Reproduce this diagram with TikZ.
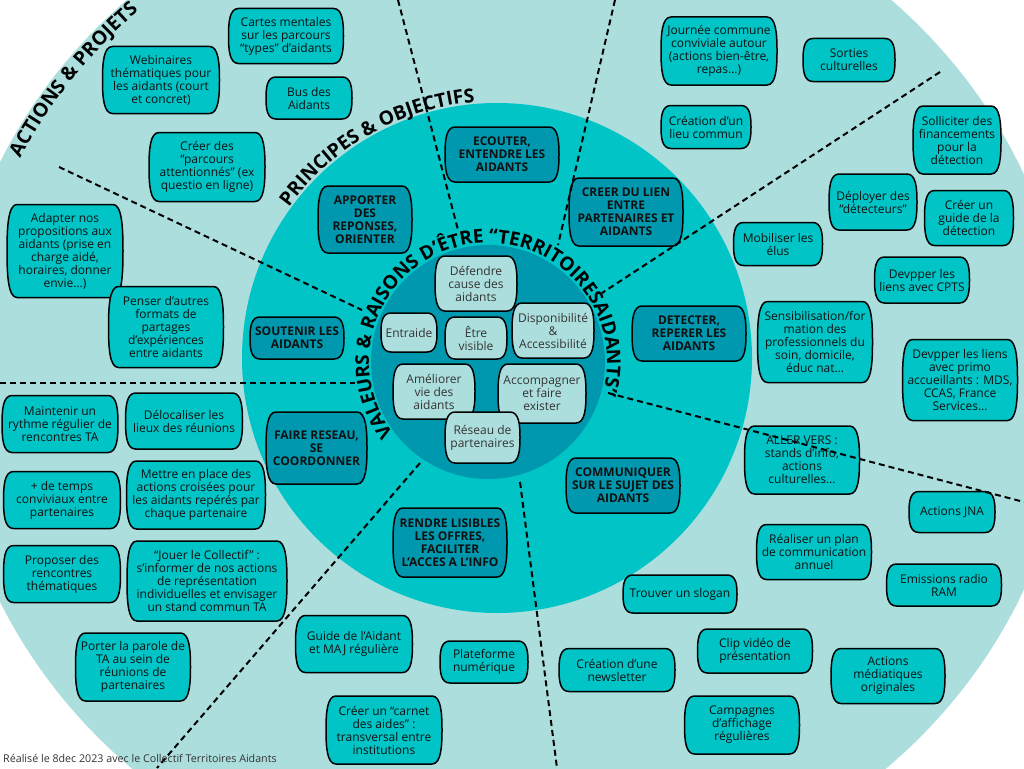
\documentclass[tikz,border=0pt]{standalone}
\usepackage{fontspec}
\setmainfont{Open Sans}
\usetikzlibrary{decorations.text}
\definecolor{cLight}{HTML}{ADDEDE}
\definecolor{cTeal}{HTML}{00C4C6}
\definecolor{cDark}{HTML}{0098AF}
\definecolor{txtDark}{HTML}{111111}
\definecolor{txtGray}{HTML}{333333}
\tikzset{
  actS/.style={draw=black, line width=1.5pt, fill=cTeal},
  prinS/.style={actS, fill=cDark},
  valS/.style={actS, fill=cLight},
  actT/.style={align=center, font=\fontsize{12}{13}\selectfont, text=txtDark, inner sep=1pt},
  prinT/.style={actT, font=\fontsize{12}{13}\selectfont\bfseries},
  valT/.style={actT, text=txtGray},
  sep/.style={draw=black, line width=2pt, dash pattern=on 6pt off 4pt},
}
% #1 kind, #2 name, #3 centre, #4 width, #5 height, #6 text
\newcommand{\bx}[6]{%
  \pgfmathsetmacro\bW{#4/2}\pgfmathsetmacro\bH{#5/2}%
  \begin{scope}[shift={#3}]
    \path[#1S] ({-\bW+10},\bH) -- ({\bW-10},\bH)
      .. controls ({\bW-1},\bH) and (\bW,{0.5*\bH}) .. (\bW,0)
      .. controls (\bW,{-0.5*\bH}) and ({\bW-1},{-\bH}) .. ({\bW-10},{-\bH})
      -- ({-\bW+10},{-\bH})
      .. controls ({-\bW+1},{-\bH}) and ({-\bW},{-0.5*\bH}) .. ({-\bW},0)
      .. controls ({-\bW},{0.5*\bH}) and ({-\bW+1},\bH) .. ({-\bW+10},\bH) -- cycle;
  \end{scope}
  \node[#1T, minimum width=#4pt, minimum height=#5pt] (#2) at #3 {#6};}
\begin{document}
\begin{tikzpicture}[x=1pt,y=1pt]
\useasboundingbox (0,0) rectangle (1024,-768);
\fill[white] (0,0) rectangle (1024,-768);
\clip (0,0) rectangle (1024,-768);
% rings
\fill[cLight] (509,-382) ellipse[x radius=561, y radius=522];
\fill[cTeal] (497,-358) circle[radius=255];
\fill[cDark] (488,-362) circle[radius=117];

% outer actions
\bx{act}{a1}{(286,-36)}{115}{55}{Cartes mentales\\sur les parcours\\“types” d’aidants}
\bx{act}{a2}{(161,-80)}{117}{67}{Webinaires\\thématiques pour\\les aidants (court\\et concret)}
\bx{act}{a3}{(309,-98)}{86}{42}{Bus des\\Aidants}
\bx{act}{a4}{(207,-167)}{116}{69}{Créer des\\“parcours\\attentionnés” (ex\\questio en ligne)}
\bx{act}{a5}{(65,-251)}{116}{93}{Adapter nos\\propositions aux\\aidants (prise en\\charge aidé,\\horaires, donner\\envie…)}
\bx{act}{a6}{(166,-327)}{115}{81}{Penser d’autres\\formats de\\partages\\d’expériences\\entre aidants}
\bx{act}{a7}{(60,-424)}{116}{57}{Maintenir un\\rythme régulier de\\rencontres TA}
\bx{act}{a8}{(184,-421)}{117}{56}{Délocaliser les\\lieux des réunions}
\bx{act}{a9}{(62,-500)}{117}{57}{+ de temps\\conviviaux entre\\partenaires}
\bx{act}{a10}{(196,-495)}{139}{68}{Mettre en place des\\actions croisées pour\\les aidants repérés par\\chaque partenaire}
\bx{act}{a11}{(62,-574)}{117}{57}{Proposer des\\rencontres\\thématiques}
\bx{act}{a12}{(207,-581)}{160}{80}{“Jouer le Collectif” :\\s’informer de nos actions\\de représentation\\individuelles et envisager\\un stand commun TA}
\bx{act}{a13}{(133,-667)}{115}{68}{Porter la parole de\\TA au sein de\\réunions de\\partenaires}
\bx{act}{a14}{(354,-644)}{117}{57}{Guide de l’Aidant\\et MAJ régulière}
\bx{act}{a15}{(484,-662)}{88}{42}{Plateforme\\numérique}
\bx{act}{a16}{(384,-730)}{116}{68}{Créer un “carnet\\des aides” :\\transversal entre\\institutions}
\bx{act}{a17}{(617,-670)}{116}{43}{Création d’une\\newsletter}
\bx{act}{a18}{(680,-594)}{114}{38}{Trouver un slogan}
\bx{act}{a19}{(755,-651)}{115}{44}{Clip vidéo de\\présentation}
\bx{act}{a20}{(742,-725)}{115}{58}{Campagnes\\d’affichage\\régulières}
\bx{act}{a21}{(888,-676)}{114}{55}{Actions\\médiatiques\\originales}
\bx{act}{a22}{(814,-552)}{115}{55}{Réaliser un plan\\de communication\\annuel}
\bx{act}{a23}{(944,-585)}{115}{42}{Emissions radio\\RAM}
\bx{act}{a24}{(952,-512)}{86}{41}{Actions JNA}
\bx{act}{a25}{(802,-460)}{115}{68}{ALLER VERS :\\stands d’info,\\actions\\culturelles…}
\bx{act}{a26}{(815,-342)}{115}{81}{Sensibilisation/for\\mation des\\professionnels du\\soin, domicile,\\éduc nat…}
\bx{act}{a27}{(960,-380)}{115}{81}{Devpper les liens\\avec primo\\accueillants : MDS,\\CCAS, France\\Services…}
\bx{act}{a28}{(922,-280)}{95}{46}{Devpper les\\liens avec CPTS}
\bx{act}{a29}{(778,-244)}{89}{43}{Mobiliser les\\élus}
\bx{act}{a30}{(873,-202)}{88}{56}{Déployer des\\“détecteurs”}
\bx{act}{a31}{(969,-218)}{89}{55}{Créer un\\guide de la\\détection}
\bx{act}{a32}{(957,-140)}{88}{68}{Solliciter des\\financements\\pour la\\détection}
\bx{act}{a33}{(719,-51)}{116}{68}{Journée commune\\conviviale autour\\(actions bien-être,\\repas…)}
\bx{act}{a34}{(849,-60)}{92}{43}{Sorties\\culturelles}
\bx{act}{a35}{(706,-127)}{90}{43}{Création d’un\\lieu commun}

% principles
\bx{prin}{p1}{(502,-154.5)}{114}{55}{ECOUTER,\\ENTENDRE LES\\AIDANTS}
\bx{prin}{p2}{(365,-219.5)}{94}{67}{APPORTER\\DES\\REPONSES,\\ORIENTER}
\bx{prin}{p3}{(626,-212)}{114}{68}{CREER DU LIEN\\ENTRE\\PARTENAIRES ET\\AIDANTS}
\bx{prin}{p4}{(297,-338)}{94}{42}{SOUTENIR LES\\AIDANTS}
\bx{prin}{p5}{(689,-333.5)}{114}{55}{DETECTER,\\REPERER LES\\AIDANTS}
\bx{prin}{p6}{(316.5,-448)}{101}{72}{FAIRE RESEAU,\\SE\\COORDONNER}
\bx{prin}{p7}{(623,-485.5)}{114}{55}{COMMUNIQUER\\SUR LE SUJET DES\\AIDANTS}
\bx{prin}{p8}{(450,-542.5)}{114}{69}{RENDRE LISIBLES\\LES OFFRES,\\FACILITER\\L’ACCES A L’INFO}

% values
\bx{val}{v1}{(476,-283.5)}{82}{55}{Défendre\\cause des\\aidants}
\bx{val}{v2}{(409,-332.5)}{56}{39}{Entraide}
\bx{val}{v3}{(476,-338)}{62}{42}{Être\\visible}
\bx{val}{v4}{(553,-330.5)}{82}{55}{Disponibilité\\\&\\Accessibilité}
\bx{val}{v5}{(434,-391.5)}{82}{55}{Améliorer\\vie des\\aidants}
\bx{val}{v6}{(542,-393.5)}{88}{59}{Accompagner\\et faire\\exister}
\bx{val}{v7}{(482.5,-437.5)}{75}{51}{Réseau de\\partenaires}

% curved titles
\path[decorate, decoration={text along path, text align=center,
  text={|\fontsize{19.5}{20}\selectfont\bfseries|ACTIONS {\&} PROJETS}}]
  (509,-382) ++(165:545 and 506) arc[start angle=165, end angle=122, x radius=545, y radius=506];
\path[decorate, decoration={text along path, text align=center,
  text={|\fontsize{19.3}{20}\selectfont\bfseries|PRINCIPES {\&} OBJECTIFS}}]
  (497,-358) ++(150:257) arc[start angle=150, end angle=89, radius=257];
\path[decorate, decoration={text along path, text align=center,
  text={|\fontsize{19}{20}\selectfont\bfseries|VALEURS {\&} RAISONS D’ÊTRE “TERRITOIRESAIDANTS”}}]
  (488,-362) ++(240:119) arc[start angle=240, end angle=-39, radius=119];

% separators
\coordinate (l1a) at (59,-167);  \coordinate (l1b) at (362,-310);
\coordinate (l2a) at (398,0);    \coordinate (l2b) at (458,-230);
\coordinate (l3a) at (615,0);    \coordinate (l3b) at (558,-245);
\coordinate (l4a) at (940,-72);  \coordinate (l4b) at (602,-293);
\coordinate (l5a) at (608,-393); \coordinate (l5b) at (1024,-502);
\coordinate (l6a) at (520,-482); \coordinate (l6b) at (557,-768);
\coordinate (l7a) at (0,-383);   \coordinate (l7b) at (355,-383);
\coordinate (l8a) at (420,-463); \coordinate (l8b) at (157,-768);
\foreach \i in {1,...,8} {\draw[sep] (l\i a) -- (l\i b);}

\node[anchor=base west, inner sep=0pt, font=\fontsize{10.7}{12}\selectfont, text=txtGray] (foot) at (3,-762) {Réalisé le 8dec 2023 avec le Collectif Territoires Aidants};
\end{tikzpicture}
\end{document}
